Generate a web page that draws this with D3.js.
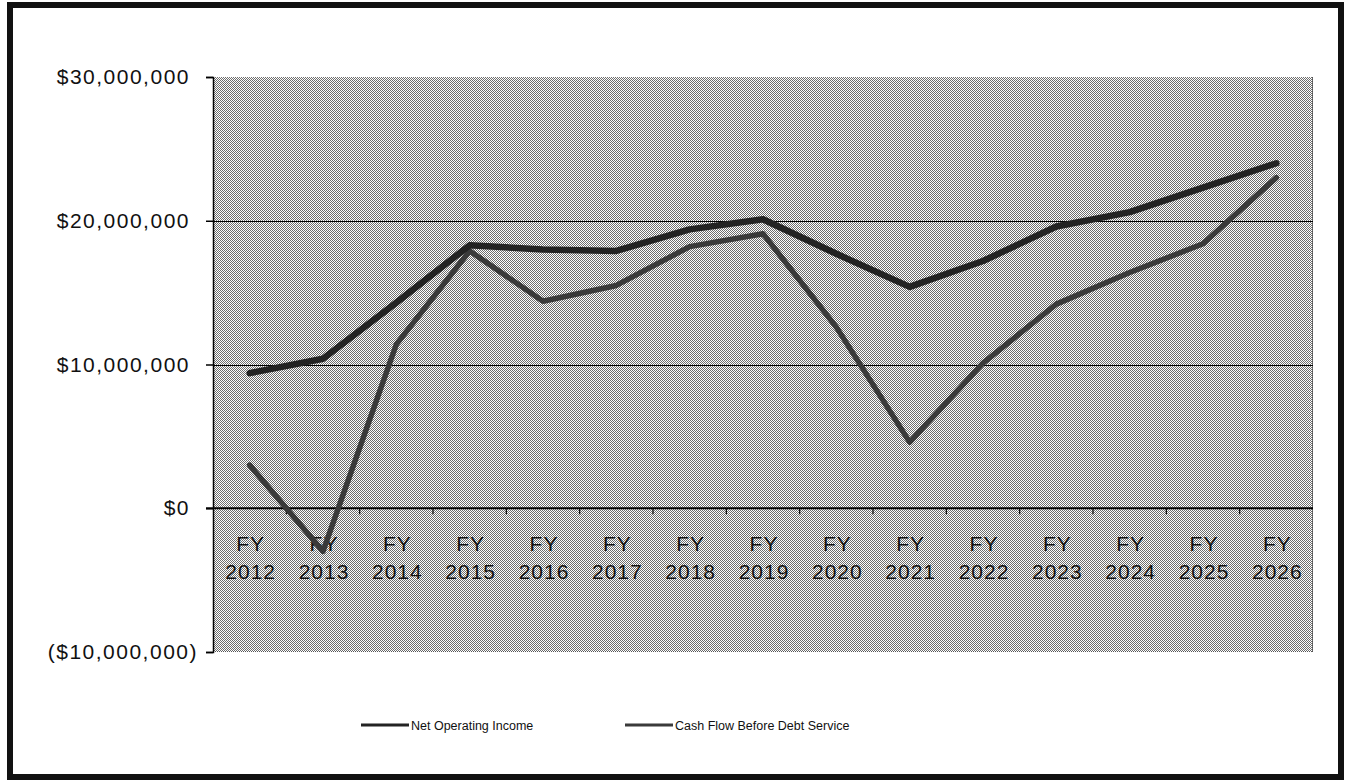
<!DOCTYPE html>
<html>
<head>
<meta charset="utf-8">
<script src="https://cdn.jsdelivr.net/npm/d3@7"></script>
<style>
  body { margin: 0; background: #fff; }
  svg { display: block; font-family: Arial, "Liberation Sans", sans-serif; }
</style>
</head>
<body>
<svg id="chart" width="1346" height="780"></svg>
<script>
// data
const years = ["2012", "2013", "2014", "2015", "2016", "2017", "2018", "2019", "2020", "2021", "2022", "2023", "2024", "2025", "2026"];
const netOperatingIncome = [9.4, 10.4, 14.3, 18.3, 18.0, 17.9, 19.4, 20.1, 17.7, 15.4, 17.2, 19.6, 20.6, 22.3, 24.0].map(v => v * 1e6);
const cashFlowBeforeDebt = [3.0, -3.0, 11.4, 17.9, 14.4, 15.5, 18.2, 19.1, 12.6, 4.6, 10.1, 14.2, 16.4, 18.4, 23.0].map(v => v * 1e6);
const yTicks = [-10e6, 0, 10e6, 20e6, 30e6];
const seriesNames = ["Net Operating Income", "Cash Flow Before Debt Service"];

const svg = d3.select("#chart");
const plot = { left: 213, top: 77, right: 1313, bottom: 652 };

// dither pattern for plot area
const defs = svg.append("defs");
const pat = defs.append("pattern")
  .attr("id", "dither")
  .attr("width", 2).attr("height", 2)
  .attr("patternUnits", "userSpaceOnUse");
pat.append("rect").attr("width", 2).attr("height", 2).attr("fill", "#fff");
pat.append("rect").attr("x", 0).attr("y", 0).attr("width", 1).attr("height", 1).attr("fill", "#6e6e6e");
pat.append("rect").attr("x", 1).attr("y", 1).attr("width", 1).attr("height", 1).attr("fill", "#6e6e6e");

// outer frame
svg.append("rect")
  .attr("x", 10).attr("y", 5)
  .attr("width", 1331).attr("height", 772)
  .attr("fill", "none")
  .attr("stroke", "#111")
  .attr("stroke-width", 6);

const x = d3.scaleBand().domain(years).range([plot.left, plot.right]);
const y = d3.scaleLinear().domain([-10e6, 30e6]).range([plot.bottom, plot.top]);

// plot background
svg.append("rect")
  .attr("x", plot.left).attr("y", plot.top)
  .attr("width", plot.right - plot.left)
  .attr("height", plot.bottom - plot.top)
  .attr("fill", "url(#dither)");
svg.append("line")
  .attr("x1", plot.right - 0.5).attr("x2", plot.right - 0.5)
  .attr("y1", plot.top).attr("y2", plot.bottom)
  .attr("stroke", "#555").attr("stroke-dasharray", "1,1");
svg.append("line")
  .attr("x1", plot.left).attr("x2", plot.right)
  .attr("y1", plot.bottom - 0.5).attr("y2", plot.bottom - 0.5)
  .attr("stroke", "#555").attr("stroke-dasharray", "1,1");

// gridlines
svg.append("g")
  .selectAll("line")
  .data(yTicks.filter(d => d > 0 && d < 30e6))
  .join("line")
  .attr("x1", plot.left).attr("x2", plot.right)
  .attr("y1", d => Math.round(y(d)) + 0.5).attr("y2", d => Math.round(y(d)) + 0.5)
  .attr("stroke", "#000").attr("stroke-width", 1.2);

// y axis (Excel style: positives leave room for the closing paren)
const fmt = v => v < 0 ? `($${d3.format(",")(-v)})` : `$${d3.format(",")(v)}`;
const yAxis = svg.append("g")
  .attr("transform", `translate(${plot.left},0)`)
  .call(d3.axisLeft(y).tickValues(yTicks).tickFormat(fmt).tickSize(7).tickPadding(8));
yAxis.select(".domain").attr("stroke", "#000").attr("stroke-width", 1.5);
yAxis.selectAll(".tick line").attr("stroke", "#000").attr("stroke-width", 1.5);
yAxis.selectAll(".tick text")
  .attr("font-size", 21)
  .attr("letter-spacing", 1.5)
  .attr("font-family", "Arial, 'Liberation Sans', sans-serif")
  .attr("fill", "#111")
  .attr("dx", d => d < 0 ? 0 : -8);

// zero axis with ticks between categories
svg.append("line")
  .attr("x1", plot.left - 7).attr("x2", plot.right)
  .attr("y1", y(0)).attr("y2", y(0))
  .attr("stroke", "#000").attr("stroke-width", 2);
svg.append("g")
  .selectAll("line")
  .data(years.slice(1))
  .join("line")
  .attr("x1", d => x(d)).attr("x2", d => x(d))
  .attr("y1", y(0)).attr("y2", y(0) + 6)
  .attr("stroke", "#000").attr("stroke-width", 1.2);

// x labels
const xl = svg.append("g")
  .selectAll("text")
  .data(years)
  .join("text")
  .attr("text-anchor", "middle")
  .attr("font-size", 21)
  .attr("letter-spacing", 1)
  .attr("fill", "#111");
xl.append("tspan").attr("x", d => x(d) + x.bandwidth() / 2 + 1).attr("y", y(0) + 43).text("FY");
xl.append("tspan").attr("x", d => x(d) + x.bandwidth() / 2 + 1).attr("y", y(0) + 71).text(d => d);

// lines
const line = d3.line()
  .x((d, i) => x(years[i]) + x.bandwidth() / 2)
  .y(d => y(d));
svg.append("path")
  .datum(cashFlowBeforeDebt)
  .attr("d", line)
  .attr("fill", "none")
  .attr("stroke", "#3a3a3a")
  .attr("stroke-width", 5.5)
  .attr("stroke-linejoin", "round")
  .attr("stroke-linecap", "round");
svg.append("path")
  .datum(netOperatingIncome)
  .attr("d", line)
  .attr("fill", "none")
  .attr("stroke", "#232323")
  .attr("stroke-width", 6.5)
  .attr("stroke-linejoin", "round")
  .attr("stroke-linecap", "round");

// legend
const legend = svg.append("g").attr("transform", "translate(361,725)");
legend.selectAll("g")
  .data(seriesNames)
  .join("g")
  .attr("transform", (d, i) => `translate(${i * 264},0)`)
  .call(g => {
    g.append("line")
      .attr("x1", 0).attr("x2", 48)
      .attr("y1", 0).attr("y2", 0)
      .attr("stroke", (d, i) => i == 0 ? "#232323" : "#3a3a3a")
      .attr("stroke-width", 3);
    g.append("text")
      .text(d => d)
      .attr("x", 50)
      .attr("y", 4.5)
      .attr("font-size", 12.5)
      .attr("fill", "#111");
  });
</script>
</body>
</html>
